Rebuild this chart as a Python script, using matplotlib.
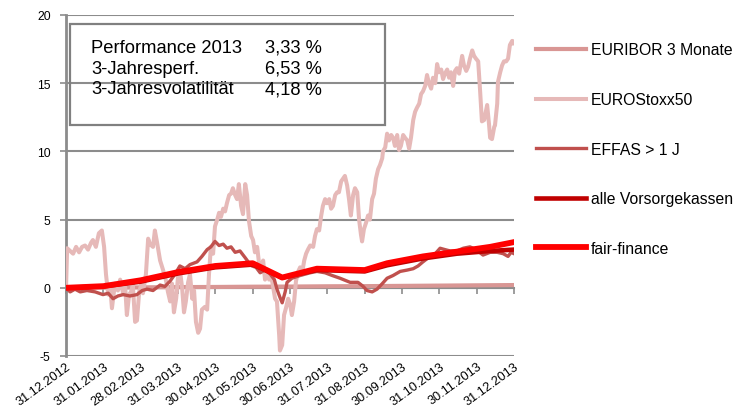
import numpy as np
import matplotlib.pyplot as plt

plt.rcParams["font.family"] = ["Liberation Sans", "DejaVu Sans"]

# x positions are in months since 31.12.2012 (category axis, month-end ticks)
TICK_LABELS = [
    "31.12.2012", "31.01.2013", "28.02.2013", "31.03.2013", "30.04.2013",
    "31.05.2013", "30.06.2013", "31.07.2013", "31.08.2013", "30.09.2013",
    "31.10.2013", "30.11.2013", "31.12.2013",
]

euribor_t = [0, 1, 2, 3, 4, 5, 6, 7, 8, 9, 10, 11, 12]
euribor_v = [0.0, 0.01, 0.03, 0.05, 0.06, 0.08, 0.09, 0.11, 0.12, 0.14, 0.16, 0.18, 0.2]

stoxx_t = [
    0.00, 0.03, 0.11, 0.19, 0.27, 0.35, 0.43, 0.51, 0.59, 0.67, 0.72, 0.80, 0.88, 0.96,
    1.02, 1.07, 1.13, 1.18, 1.23, 1.31, 1.39, 1.45, 1.53, 1.58, 1.63, 1.69, 1.74, 1.79,
    1.85, 1.90, 1.96, 2.01, 2.06, 2.14, 2.20, 2.25, 2.33, 2.38, 2.44, 2.52, 2.60, 2.68,
    2.73, 2.79, 2.84, 2.89, 2.95, 3.00, 3.05, 3.11, 3.16, 3.21, 3.27, 3.32, 3.38, 3.43,
    3.48, 3.54, 3.59, 3.64, 3.72, 3.78, 3.83, 3.88, 3.94, 3.99, 4.05, 4.10, 4.15, 4.21,
    4.26, 4.31, 4.37, 4.42, 4.47, 4.53, 4.58, 4.63, 4.69, 4.74, 4.80, 4.85, 4.90, 4.96,
    5.01, 5.06, 5.12, 5.17, 5.22, 5.28, 5.33, 5.38, 5.44, 5.49, 5.55, 5.60, 5.65, 5.71,
    5.73, 5.79, 5.84, 5.89, 5.95, 6.00, 6.05, 6.11, 6.16, 6.22, 6.27, 6.32, 6.38, 6.43,
    6.48, 6.54, 6.62, 6.67, 6.72, 6.78, 6.83, 6.88, 6.94, 6.99, 7.05, 7.10, 7.15, 7.21,
    7.26, 7.31, 7.37, 7.42, 7.47, 7.53, 7.58, 7.63, 7.69, 7.74, 7.80, 7.85, 7.90, 7.93,
    7.98, 8.04, 8.09, 8.14, 8.20, 8.25, 8.30, 8.36, 8.41, 8.47, 8.49, 8.55, 8.60, 8.65,
    8.71, 8.76, 8.81, 8.87, 8.92, 8.97, 9.03, 9.08, 9.14, 9.19, 9.24, 9.30, 9.35, 9.40,
    9.46, 9.51, 9.56, 9.62, 9.67, 9.72, 9.78, 9.83, 9.89, 9.94, 9.99, 10.05, 10.10, 10.15,
    10.21, 10.26, 10.31, 10.37, 10.42, 10.47, 10.53, 10.58, 10.61, 10.66, 10.72, 10.77,
    10.82, 10.88, 10.93, 10.98, 11.04, 11.09, 11.14, 11.20, 11.25, 11.28, 11.33, 11.36,
    11.41, 11.47, 11.49, 11.55, 11.57, 11.63, 11.68, 11.73, 11.79, 11.84, 11.89, 11.95,
    11.97, 12.00,
]
stoxx_v = [
    0.0, 2.9, 2.7, 2.5, 3.0, 2.6, 3.0, 3.1, 2.8, 3.3, 3.5, 3.0, 4.0, 4.2,
    3.0, 1.0, -0.5, 0.2, -1.5, 0.3, -0.2, 0.6, -0.4, 0.3, -2.0, -0.5, -0.3, 0.2,
    -2.5, -2.4, -0.3, 0.2, -0.4, 1.0, 3.6, 3.2, 3.0, 4.2, 3.3, 2.0, 1.3, 0.5,
    -0.3, -1.0, 0.3, -1.8, -0.8, 0.8, 1.3, 0.0, -1.8, -1.0, 0.4, 1.0, -0.8, -0.2,
    -2.5, -3.3, -3.0, -1.6, -1.4, -1.6, 1.0, 3.0, 2.5, 4.5, 5.0, 5.5, 5.2, 5.8,
    5.6, 6.2, 6.8, 6.9, 7.3, 6.8, 6.5, 7.6, 6.0, 5.4, 7.6, 6.8, 4.9, 3.8,
    3.5, 2.6, 3.0, 1.8, 1.3, 2.0, 0.6, 1.3, 0.6, 1.0, 0.0, -0.8, -1.0, -3.5,
    -4.6, -4.2, -2.0, -1.5, -0.8, -1.2, -2.0, -1.0, 0.5, 1.2, 1.5, 1.0, 2.0, 2.5,
    2.8, 3.1, 3.0, 3.8, 4.3, 4.2, 5.2, 6.0, 6.5, 6.2, 6.5, 5.8, 6.0, 6.8,
    7.0, 7.0, 7.8, 8.0, 8.2, 7.5, 6.5, 5.3, 6.8, 7.3, 7.0, 5.0, 3.9, 3.4,
    4.3, 4.8, 5.3, 5.0, 6.5, 6.9, 8.0, 8.7, 9.0, 9.5, 10.0, 10.3, 11.3, 10.8,
    11.2, 11.0, 10.4, 11.2, 10.1, 10.4, 11.2, 11.0, 10.8, 10.2, 11.0, 12.3, 12.9, 13.2,
    13.5, 14.2, 14.4, 14.8, 15.6, 15.0, 14.6, 15.4, 15.0, 16.4, 15.8, 16.0, 15.3, 15.7,
    16.0, 15.4, 15.8, 14.8, 15.9, 16.1, 15.7, 16.5, 17.0, 16.3, 15.9, 16.2,
    16.8, 17.4, 17.0, 16.8, 16.6, 14.5, 12.2, 12.3, 13.0, 13.4, 12.0, 11.0,
    10.9, 11.8, 11.9, 13.5, 15.1, 15.8, 16.3, 16.6, 16.6, 16.8, 17.8, 18.1,
    17.9, 18.0,
]

effas_t = [
    0.00, 0.11, 0.24, 0.38, 0.56, 0.78, 0.99, 1.13, 1.26, 1.39, 1.53, 1.71, 1.90, 2.04,
    2.17, 2.33, 2.52, 2.65, 2.79, 2.92, 3.05, 3.19, 3.32, 3.51, 3.64, 3.78, 3.88, 3.99,
    4.10, 4.21, 4.31, 4.42, 4.53, 4.66, 4.80, 4.88, 4.98, 5.09, 5.20, 5.33, 5.47, 5.58,
    5.65, 5.73, 5.79, 5.87, 5.92, 6.05, 6.27, 6.54, 6.72, 6.94, 7.13, 7.34, 7.61, 7.82,
    7.96, 8.06, 8.20, 8.33, 8.47, 8.60, 8.76, 8.95, 9.14, 9.30, 9.43, 9.56, 9.75, 9.89,
    10.02, 10.15, 10.29, 10.47, 10.64, 10.82, 10.98, 11.17, 11.36, 11.55, 11.71, 11.84,
    11.92, 12.00,
]
effas_v = [
    0.0, -0.3, -0.1, -0.3, -0.2, -0.3, -0.5, -0.4, -0.8, -0.6, -0.5, -0.6, -0.5, -0.2,
    -0.1, -0.2, 0.2, 0.1, 0.5, 1.0, 1.6, 1.4, 1.7, 1.9, 2.3, 2.8, 3.0, 3.4,
    3.1, 3.2, 2.9, 3.0, 2.6, 2.7, 2.2, 1.9, 1.6, 1.5, 1.1, 1.3, 1.0, 0.6,
    -0.1, -0.7, -1.1, -0.3, 0.4, 0.7, 0.9, 1.1, 1.2, 1.1, 0.9, 0.7, 0.4, 0.4,
    0.1, -0.2, -0.3, -0.1, 0.3, 0.7, 0.9, 1.2, 1.3, 1.4, 1.6, 1.9, 2.3, 2.5,
    2.9, 2.8, 2.7, 2.7, 2.9, 3.0, 2.8, 2.4, 2.6, 2.6, 2.5, 2.3,
    2.6, 2.5,
]

vk_t = [0, 1, 2, 3, 4, 5, 5.79, 6.72, 8.0, 8.6, 9.56, 10.47, 11.36, 12]
vk_v = [0.0, 0.1, 0.45, 1.05, 1.5, 1.7, 0.75, 1.3, 1.2, 1.65, 2.15, 2.5, 2.7, 2.8]

ff_t = [0, 1, 2, 3, 4, 5, 5.79, 6.72, 8.0, 8.6, 9.56, 10.47, 11.36, 12]
ff_v = [0.0, 0.12, 0.55, 1.15, 1.6, 1.8, 0.75, 1.4, 1.3, 1.8, 2.3, 2.65, 3.0, 3.35]

stats_labels = ["Performance 2013", "3-Jahresperf.", "3-Jahresvolatilität"]
stats_values = ["3,33 %", "6,53 %", "4,18 %"]

grey = "#8c8c8c"

fig = plt.figure(figsize=(7.36, 4.14), dpi=100)
ax = fig.add_axes([0.0897, 0.1377, 0.6087, 0.8237])

ax.plot(euribor_t, euribor_v, color="#d99694", lw=3.0, label="EURIBOR 3 Monate", zorder=3)
ax.plot(stoxx_t, stoxx_v, color="#e6b9b8", lw=2.9, label="EUROStoxx50", zorder=4)
ax.plot(effas_t, effas_v, color="#c0504d", lw=2.4, label="EFFAS > 1 J", zorder=5)
ax.plot(vk_t, vk_v, color="#c00000", lw=3.3, label="alle Vorsorgekassen", zorder=6)
ax.plot(ff_t, ff_v, color="#ff0000", lw=4.2, label="fair-finance", zorder=7)

ax.set_xlim(0, 12)
ax.set_ylim(-5, 20)
ax.set_yticks([-5, 0, 5, 10, 15, 20])
ax.set_yticklabels(["-5", "0", "5", "10", "15", "20"])
ax.grid(axis="y", color=grey, lw=1.5, zorder=1)
ax.grid(axis="x", visible=False)

for side in ["top", "right"]:
    ax.spines[side].set_visible(False)
ax.spines["left"].set_color(grey)
ax.spines["left"].set_linewidth(2)
ax.spines["bottom"].set_position(("data", 0))
ax.spines["bottom"].set_color(grey)
ax.spines["bottom"].set_linewidth(1.5)

ax.tick_params(axis="y", colors=grey, length=4, width=1.2, pad=7, labelsize=8.7,
               labelcolor="black")
ax.set_xticks(range(13))
ax.tick_params(axis="x", colors=grey, length=4, width=1.2, labelbottom=False)

sec = ax.secondary_xaxis(0.0)
sec.set_xticks(range(13))
sec.set_xticklabels(TICK_LABELS, rotation=36, ha="right", rotation_mode="anchor",
                    fontsize=9.2)
sec.tick_params(length=0, pad=3)
sec.spines["bottom"].set_visible(False)

# stats box
box = plt.Rectangle((0.0951, 0.6957), 0.428, 0.2440, transform=fig.transFigure,
                    fill=False, edgecolor="#808080", lw=1.6)
fig.patches.append(box)
for i, (lab, val) in enumerate(zip(stats_labels, stats_values)):
    yy = 0.872 - i * 0.05
    fig.text(0.1236, yy, lab, fontsize=13.2, va="baseline")
    fig.text(0.3600, yy, val, fontsize=13.2, va="baseline")

fig.legend(loc="upper left", bbox_to_anchor=(0.728, 0.895), frameon=False,
           fontsize=11.3, handlelength=3.2, handletextpad=0.3, labelspacing=2.2,
           borderpad=0, borderaxespad=0)

plt.savefig("out.png", dpi=100)
